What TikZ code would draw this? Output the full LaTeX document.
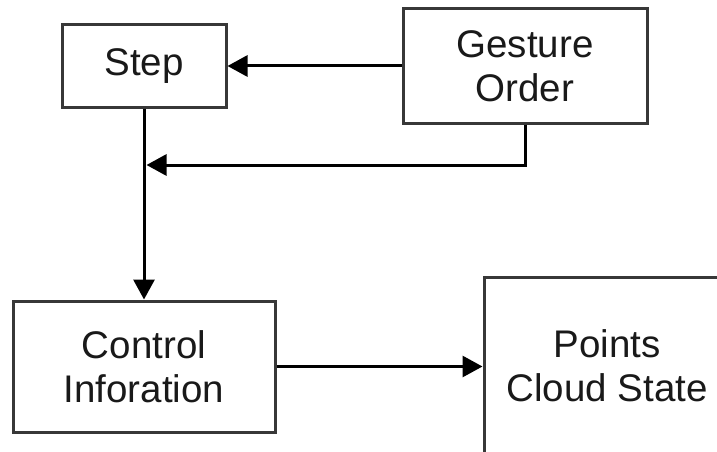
\documentclass[tikz,border=0pt]{standalone}
\usepackage{fontspec}
\setmainfont{Liberation Sans}
\usetikzlibrary{arrows.meta}
\begin{document}
\begin{tikzpicture}[x=1pt,y=-1pt,
  box/.style={draw=black!78,line width=3pt,rectangle,inner sep=0pt,align=center,
    font=\fontsize{38.5}{44}\selectfont,text=black!90},
  conn/.style={line width=3pt,black,-{Triangle[length=20pt,width=21pt]}},
  plain/.style={line width=3pt,black}]
\clip (0,0) rectangle (717,452);
\fill[white] (0,0) rectangle (717,452);
\node[box,minimum width=164pt,minimum height=82pt] (step) at (144,66) {\raisebox{-2pt}{Step}};
\node[box,minimum width=244pt,minimum height=114pt] (gest) at (525,66) {Gesture\\Order};
\node[box,minimum width=262pt,minimum height=131pt] (ctrl) at (144,366.5) {Control\\Inforation};
\node[box,minimum width=246pt,minimum height=178pt] (pcs) at (607,366) {Points\\Cloud State};
\coordinate (tip) at (146.5,165);
\draw[conn] (gest.west) -- (step.east);
\draw[conn] (gest.south -| 525.7,0) |- (tip);
\draw[conn] (step.south) -- (ctrl.north);
\draw[conn] (ctrl.east) -- (ctrl.east -| pcs.west);
\end{tikzpicture}
\end{document}
